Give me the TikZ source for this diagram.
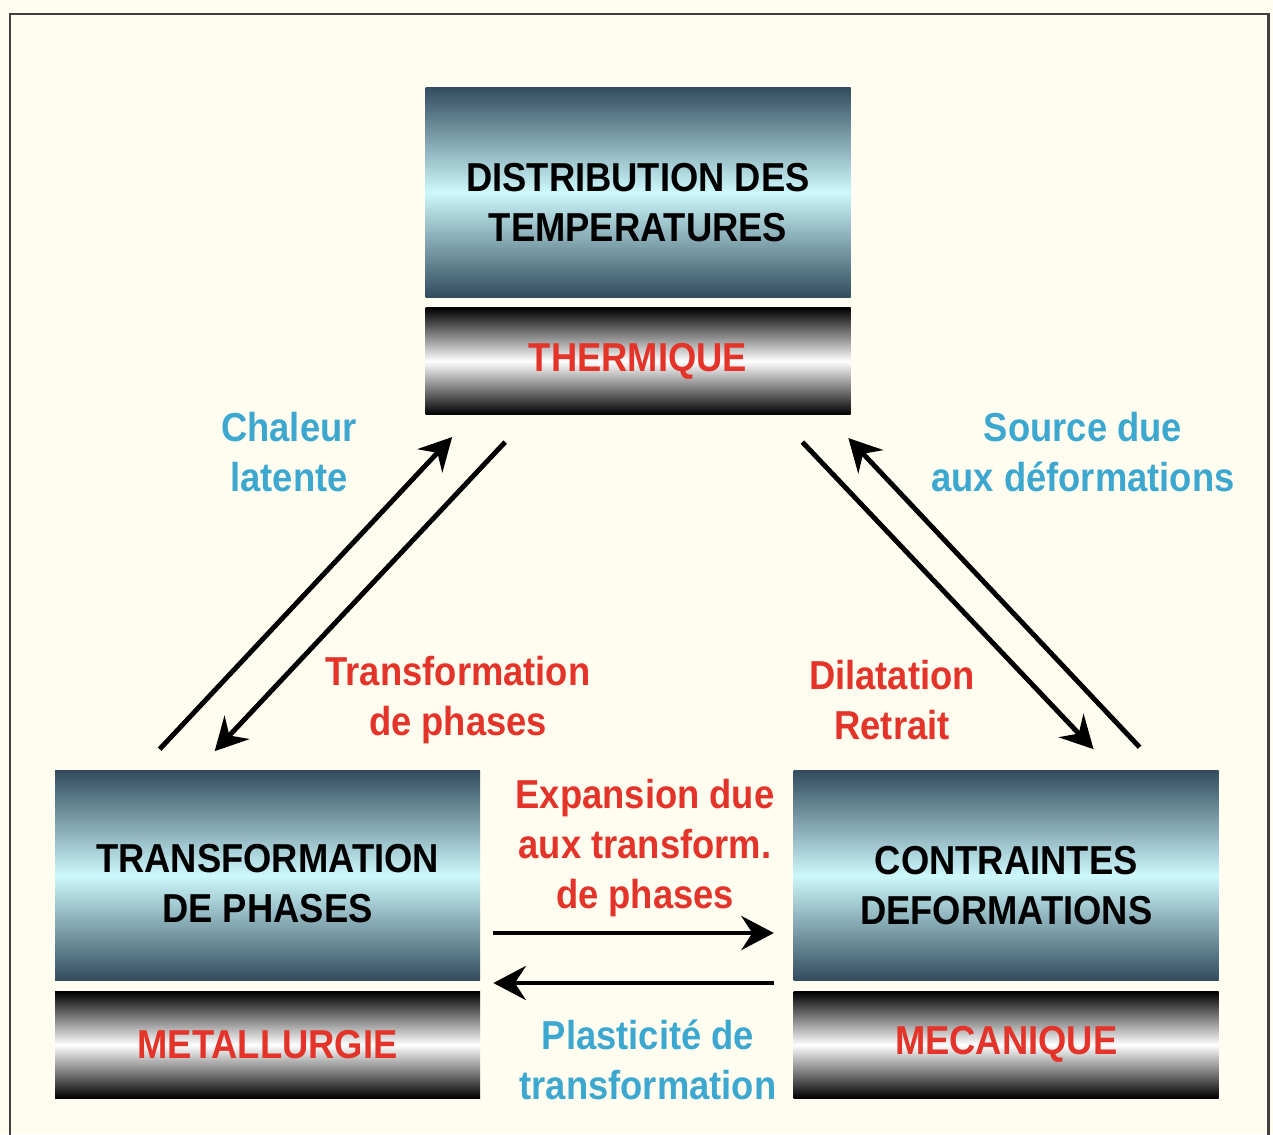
\documentclass[tikz,border=0pt]{standalone}
\usepackage{fontspec}
\setmainfont{Liberation Sans}[FakeStretch=0.9]
\usetikzlibrary{positioning, calc, arrows.meta}

\definecolor{paper}{RGB}{255,252,240}
\definecolor{slate}{RGB}{50,76,94}
\definecolor{ice}{RGB}{205,248,252}
\definecolor{redtxt}{RGB}{228,52,42}
\definecolor{bluetxt}{RGB}{60,168,208}

\tikzset{
    panel/.style = {minimum width=8.5cm, minimum height=4.2cm, inner sep=0pt,
        top color=slate, bottom color=slate, middle color=ice},
    band/.style = {minimum width=8.5cm, minimum height=2.14cm, inner sep=0pt,
        top color=black, bottom color=black, middle color=white, text=redtxt},
    ptext/.style = {align=center, text=black},
    lbl/.style = {align=center},
    flow/.style = {line width=2.8pt, -{Stealth[length=0.65cm, width=0.68cm, inset=0.22cm]}},
}

\begin{document}
\begin{tikzpicture}[font=\fontsize{23}{28.5}\selectfont\bfseries]

    \useasboundingbox (0,0) rectangle (25.46,-22.68);
    \clip (0,0) rectangle (25.46,-22.68);
    \fill[paper] (0,0) rectangle (25.46,-22.68);
    \draw[line width=1.7pt, black!75] (0.2,-0.28) rectangle (25.36,-23.2);

    % thermique
    \node[panel] (distrib) at (12.76,-3.84) {};
    \node[ptext] (distrib-txt) at ([yshift=-0.22cm]distrib.center) {DISTRIBUTION DES\\TEMPERATURES};
    \node[band, below = 0.2cm of distrib] (thermique) {THERMIQUE};

    % metallurgie
    \node[panel] (transfo) at (5.35,-17.51) {};
    \node[ptext] (transfo-txt) at ([yshift=-0.17cm]transfo.center) {TRANSFORMATION\\DE PHASES};
    \node[band, below = 0.2cm of transfo] (metallurgie) {METALLURGIE};

    % mecanique
    \node[panel, right = 6.26cm of transfo] (contraintes) {};
    \node[ptext] (contraintes-txt) at ([yshift=-0.2cm]contraintes.center) {CONTRAINTES\\DEFORMATIONS};
    \node[band, below = 0.2cm of contraintes] (mecanique) {MECANIQUE};

    \node[lbl, text=bluetxt] (chaleur) at (5.78,-9.04) {Chaleur\\latente};
    \node[lbl, text=bluetxt] (source) at (21.66,-9.04) {Source due\\aux déformations};
    \node[lbl, text=redtxt] (tr-phases) at (9.16,-14.0) {Transformation\\de phases};
    \node[lbl, text=redtxt] (dilatation) at (17.84,-14.0) {Dilatation\\Retrait};
    \node[lbl, text=redtxt] (expansion) at (12.9,-16.96) {Expansion due\\aux transform.\\de phases};
    \node[lbl, text=bluetxt] (plasticite) at (12.96,-21.2) {Plasticité de\\transformation};

    \draw[flow] ([xshift=2.1cm, yshift=0.42cm]transfo.north west) -- ([xshift=0.54cm, yshift=-0.44cm]thermique.south west);
    \draw[flow] ([xshift=1.6cm, yshift=-0.54cm]thermique.south west) -- ([xshift=3.2cm, yshift=0.38cm]transfo.north west);
    \draw[flow] ([xshift=-0.97cm, yshift=-0.54cm]thermique.south east) -- ([xshift=-2.51cm, yshift=0.42cm]contraintes.north east);
    \draw[flow] ([xshift=-1.59cm, yshift=0.46cm]contraintes.north east) -- ([xshift=-0.05cm, yshift=-0.46cm]thermique.south east);

    \draw[flow] ([xshift=0.26cm, yshift=-1.15cm]transfo.east) -- ([xshift=-0.39cm, yshift=-1.15cm]contraintes.west);
    \draw[flow] ([xshift=-0.39cm, yshift=-2.15cm]contraintes.west) -- ([xshift=0.26cm, yshift=-2.15cm]transfo.east);

\end{tikzpicture}
\end{document}
